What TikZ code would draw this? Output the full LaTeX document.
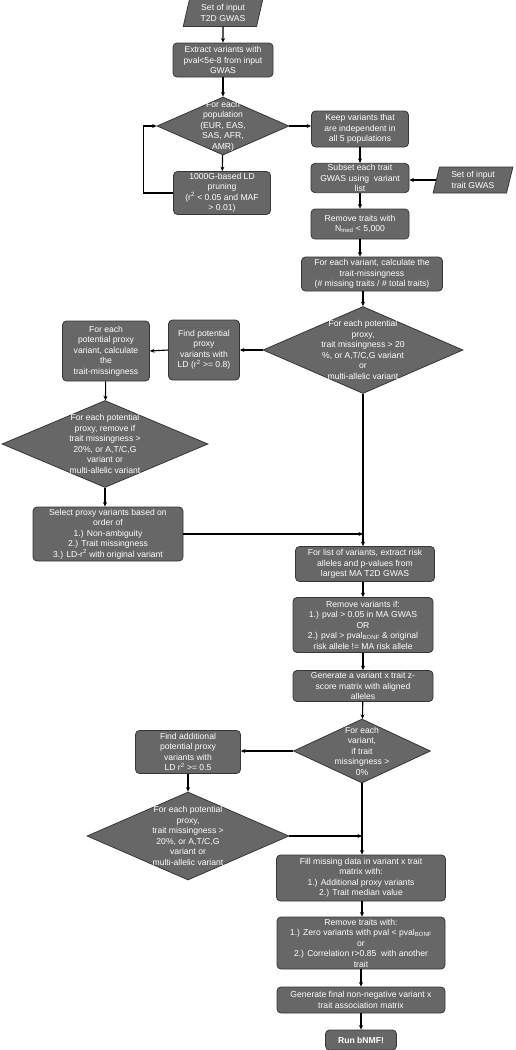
\documentclass[tikz,border=0pt]{standalone}
\usepackage{fontspec}
\setmainfont{Liberation Sans}
\usetikzlibrary{shapes.geometric, arrows.meta, calc}

\definecolor{boxgray}{HTML}{676767}
\definecolor{edgegray}{HTML}{363636}

\begin{document}
\begin{tikzpicture}[
    x=1pt, y=-1pt,
    >={Stealth[length=4.5pt, width=4pt]},
    line width=1.1pt,
    procbox/.style={draw=edgegray, fill=boxgray, line width=0.8pt, rounded corners=4pt, text=white, align=center, inner sep=1pt, font=\fontsize{8.6}{10.5}\selectfont},
    inputbox/.style={trapezium, trapezium left angle=77, trapezium right angle=103, trapezium stretches=true, draw=edgegray, fill=boxgray, line width=0.8pt, text=white, align=center, inner sep=1pt, font=\fontsize{8.6}{10.5}\selectfont},
    decision/.style={diamond, draw=edgegray, fill=boxgray, line width=0.8pt, inner sep=0pt},
    dtext/.style={text=white, align=center, inner sep=0pt, font=\fontsize{8.6}{10.5}\selectfont}
]
    \useasboundingbox (0,0) rectangle (515,1050);

    % Lead variant selection
    \node[inputbox, minimum width=80, minimum height=27] (t2d) at (223,13) {Set of input\\T2D GWAS};
    \node[procbox, minimum width=100, minimum height=34] (extract) at (223,60) {Extract variants with\\pval<5e-8 from input\\GWAS};
    \node[decision, minimum width=132, minimum height=58] (pop) at (223,126) {};
    \node[dtext] (popt) at (pop.center) {For each\\population\\(EUR, EAS,\\SAS, AFR,\\AMR)};
    \node[procbox, minimum width=97, minimum height=43] (ldprune) at (222,193) {1000G-based LD\\pruning\\(r\textsuperscript{2} < 0.05 and MAF\\> 0.01)};
    \node[procbox, minimum width=97, minimum height=36] (keep) at (360,129) {Keep variants that\\are independent in\\all 5 populations};
    \node[procbox, minimum width=98, minimum height=29] (subset) at (360,178) {Subset each trait\\GWAS using\ \ variant\\list};
    \node[inputbox, minimum width=80, minimum height=26] (traitin) at (473,180) {Set of input\\trait GWAS};
    \node[procbox, minimum width=98, minimum height=30] (rmtraits) at (360,224) {Remove traits with\\N\textsubscript{med} < 5,000};

    % Missingness and proxies
    \node[procbox, minimum width=141, minimum height=34] (calcmiss) at (372,274) {For each variant, calculate the\\trait-missingness\\(\# missing traits / \# total traits)};
    \node[decision, minimum width=200, minimum height=87] (proxydec) at (363,350) {};
    \node[dtext] (proxydect) at (proxydec.center) {For each potential\\proxy,\\trait missingness > 20\\\%, or A,T/C,G variant\\or\\multi-allelic variant};
    \node[procbox, minimum width=71, minimum height=60] (findproxy) at (204,350) {Find potential\\proxy\\variants with\\LD (r\textsuperscript{2} >= 0.8)};
    \node[procbox, minimum width=87, minimum height=60] (proxymiss) at (106,351) {For each\\potential proxy\\variant, calculate\\the\\trait-missingness};
    \node[decision, minimum width=206, minimum height=87] (proxyrm) at (105,444) {};
    \node[dtext] (proxyrmt) at (proxyrm.center) {For each potential\\proxy, remove if\\trait missingness >\\20\%, or A,T/C,G\\variant or\\multi-allelic variant};
    \node[procbox, minimum width=150, minimum height=54] (select) at (108,534) {Select proxy variants based on\\order of\\1.) Non-ambiguity\\2.) Trait missingness\\3.) LD-r\textsuperscript{2} with original variant};

    % Alignment
    \node[procbox, minimum width=139, minimum height=35] (riskall) at (365,564) {For list of variants, extract risk\\alleles and p-values from\\largest MA T2D GWAS};
    \node[procbox, minimum width=140, minimum height=55] (rmvar) at (363,625) {Remove variants if:\\1.) pval > 0.05 in MA GWAS\\OR\\2.) pval > pval\textsubscript{BONF} \& original\\risk allele != MA risk allele};
    \node[procbox, minimum width=140, minimum height=31] (zmat) at (363,686) {Generate a variant x trait z-\\score matrix with aligned\\alleles};
    \node[decision, minimum width=137, minimum height=64] (missdec) at (362,751) {};
    \node[dtext] (missdect) at (missdec.center) {For each\\variant,\\if trait\\missingness >\\0\%};
    \node[procbox, minimum width=105, minimum height=43] (addproxy) at (188,752) {Find additional\\potential proxy\\variants with\\LD r\textsuperscript{2} >= 0.5};
    \node[decision, minimum width=202, minimum height=88] (addproxydec) at (188,836) {};
    \node[dtext] (addproxydect) at (addproxydec.center) {For each potential\\proxy,\\trait missingness >\\20\%, or A,T/C,G\\variant or\\multi-allelic variant};

    % Final matrix
    \node[procbox, minimum width=169, minimum height=46] (fill) at (361,878) {Fill missing data in variant x trait\\matrix with:\\1.) Additional proxy variants\\2.) Trait median value};
    \node[procbox, minimum width=168, minimum height=52] (rmtr2) at (361,943) {Remove traits with:\\1.) Zero variants with pval < pval\textsubscript{BONF}\\or\\2.) Correlation r>0.85\ \ with another\\trait};
    \node[procbox, minimum width=168, minimum height=26] (final) at (361,1000) {Generate final non-negative variant x\\trait association matrix};
    \node[procbox, minimum width=71, minimum height=20] (run) at (361,1040) {\textbf{Run bNMF!}};

    % Connectors
    \coordinate (join1) at (proxydec.south |- select.east);
    \coordinate (join2) at (missdec.south |- addproxydec.east);

    \draw[->] (t2d) -- (extract);
    \draw[->] (extract) -- (pop);
    \draw[->] (pop) -- (ldprune);
    \draw[->] (ldprune.west) -- ++(-30,0) |- (pop.west);
    \draw[->] (pop.east) -- (keep.west |- pop.east);
    \draw[->] (keep) -- (subset);
    \draw[->] (traitin) -- (subset.east |- traitin);
    \draw[->] (subset) -- (rmtraits);
    \draw[->] (rmtraits) -- (rmtraits |- calcmiss.north);
    \draw[->] (proxydec.north |- calcmiss.south) -- (proxydec.north);
    \draw[->] (proxydec.west) -- (findproxy.east);
    \draw[->] (findproxy.west) -- (proxymiss.east);
    \draw[->] (proxymiss) -- (proxyrm);
    \draw[->] (proxyrm) -- (proxyrm.south |- select.north);
    \draw[->] (select.east) -- (join1);
    \draw[->] (proxydec.south) -- (proxydec.south |- riskall.north);
    \draw[->] (riskall.south -| rmvar) -- (rmvar);
    \draw[->] (rmvar) -- (zmat);
    \draw[->] (zmat) -- (missdec);
    \draw[->] (missdec.west) -- (addproxy.east |- missdec.west);
    \draw[->] (addproxy) -- (addproxydec);
    \draw[->] (addproxydec.east) -- (join2);
    \draw[->] (missdec.south) -- (missdec.south |- fill.north);
    \draw[->] (fill.south -| missdec) -- (rmtr2.north -| missdec);
    \draw[->] (rmtr2) -- (final);
    \draw[->] (final) -- (run);

\end{tikzpicture}
\end{document}
